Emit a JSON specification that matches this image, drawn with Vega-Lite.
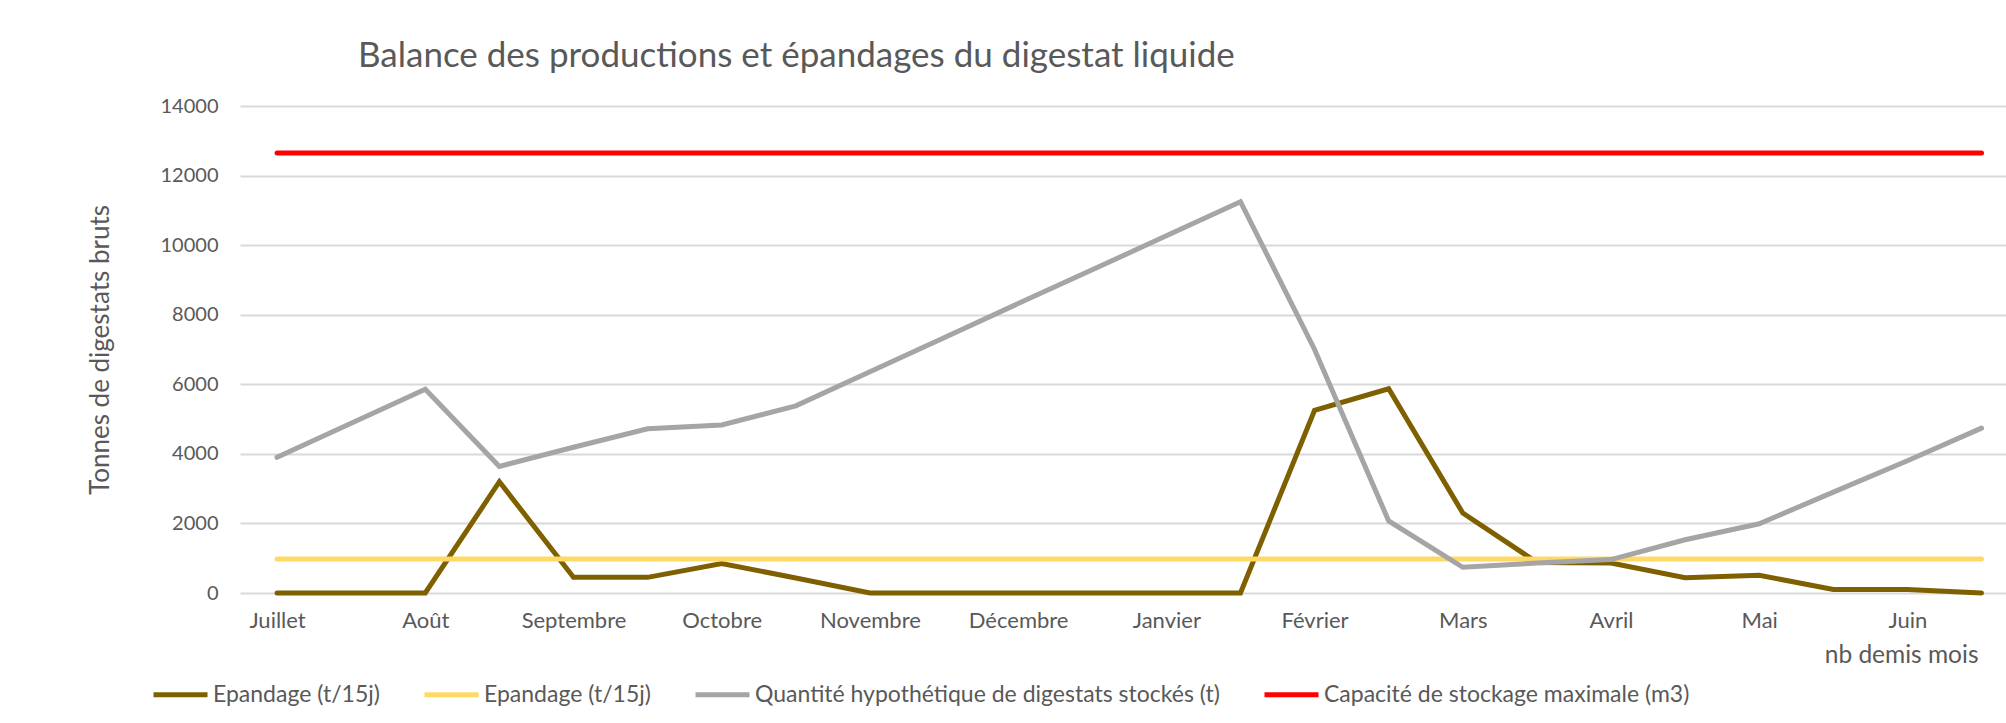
{
  "$schema": "https://vega.github.io/schema/vega-lite/v6.json",
  "autosize": {"type": "none"},
  "padding": {"left": 240, "top": 106, "right": 0, "bottom": 130},
  "width": 1766,
  "height": 487,
  "background": "white",
  "title": {
    "text": "Balance des productions et épandages du digestat liquide",
    "anchor": "start",
    "dx": 271,
    "offset": 22,
    "fontSize": 35,
    "font": "Lato",
    "fontWeight": "normal",
    "color": "#595959"
  },
  "config": {
    "font": "Lato",
    "view": {"stroke": null}
  },
  "data": {
    "values": [
      {"i": 0, "s": "E1", "v": 0}, {"i": 1, "s": "E1", "v": 0}, {"i": 2, "s": "E1", "v": 0}, {"i": 3, "s": "E1", "v": 3200},
      {"i": 4, "s": "E1", "v": 450}, {"i": 5, "s": "E1", "v": 450}, {"i": 6, "s": "E1", "v": 850}, {"i": 7, "s": "E1", "v": 430},
      {"i": 8, "s": "E1", "v": 0}, {"i": 9, "s": "E1", "v": 0}, {"i": 10, "s": "E1", "v": 0}, {"i": 11, "s": "E1", "v": 0},
      {"i": 12, "s": "E1", "v": 0}, {"i": 13, "s": "E1", "v": 0}, {"i": 14, "s": "E1", "v": 5250}, {"i": 15, "s": "E1", "v": 5870},
      {"i": 16, "s": "E1", "v": 2300}, {"i": 17, "s": "E1", "v": 880}, {"i": 18, "s": "E1", "v": 860}, {"i": 19, "s": "E1", "v": 440},
      {"i": 20, "s": "E1", "v": 510}, {"i": 21, "s": "E1", "v": 100}, {"i": 22, "s": "E1", "v": 100}, {"i": 23, "s": "E1", "v": 0},
      {"i": 0, "s": "E2", "v": 980}, {"i": 1, "s": "E2", "v": 980}, {"i": 2, "s": "E2", "v": 980}, {"i": 3, "s": "E2", "v": 980},
      {"i": 4, "s": "E2", "v": 980}, {"i": 5, "s": "E2", "v": 980}, {"i": 6, "s": "E2", "v": 980}, {"i": 7, "s": "E2", "v": 980},
      {"i": 8, "s": "E2", "v": 980}, {"i": 9, "s": "E2", "v": 980}, {"i": 10, "s": "E2", "v": 980}, {"i": 11, "s": "E2", "v": 980},
      {"i": 12, "s": "E2", "v": 980}, {"i": 13, "s": "E2", "v": 980}, {"i": 14, "s": "E2", "v": 980}, {"i": 15, "s": "E2", "v": 980},
      {"i": 16, "s": "E2", "v": 980}, {"i": 17, "s": "E2", "v": 980}, {"i": 18, "s": "E2", "v": 980}, {"i": 19, "s": "E2", "v": 980},
      {"i": 20, "s": "E2", "v": 980}, {"i": 21, "s": "E2", "v": 980}, {"i": 22, "s": "E2", "v": 980}, {"i": 23, "s": "E2", "v": 980},
      {"i": 0, "s": "Q", "v": 3900}, {"i": 1, "s": "Q", "v": 4880}, {"i": 2, "s": "Q", "v": 5860}, {"i": 3, "s": "Q", "v": 3640},
      {"i": 4, "s": "Q", "v": 4190}, {"i": 5, "s": "Q", "v": 4720}, {"i": 6, "s": "Q", "v": 4830}, {"i": 7, "s": "Q", "v": 5380},
      {"i": 8, "s": "Q", "v": 6360}, {"i": 9, "s": "Q", "v": 7340}, {"i": 10, "s": "Q", "v": 8320}, {"i": 11, "s": "Q", "v": 9290},
      {"i": 12, "s": "Q", "v": 10270}, {"i": 13, "s": "Q", "v": 11250}, {"i": 14, "s": "Q", "v": 7000}, {"i": 15, "s": "Q", "v": 2070},
      {"i": 16, "s": "Q", "v": 740}, {"i": 17, "s": "Q", "v": 860}, {"i": 18, "s": "Q", "v": 960}, {"i": 19, "s": "Q", "v": 1530},
      {"i": 20, "s": "Q", "v": 1990}, {"i": 21, "s": "Q", "v": 2900}, {"i": 22, "s": "Q", "v": 3800}, {"i": 23, "s": "Q", "v": 4740},
      {"i": 0, "s": "C", "v": 12650}, {"i": 1, "s": "C", "v": 12650}, {"i": 2, "s": "C", "v": 12650}, {"i": 3, "s": "C", "v": 12650},
      {"i": 4, "s": "C", "v": 12650}, {"i": 5, "s": "C", "v": 12650}, {"i": 6, "s": "C", "v": 12650}, {"i": 7, "s": "C", "v": 12650},
      {"i": 8, "s": "C", "v": 12650}, {"i": 9, "s": "C", "v": 12650}, {"i": 10, "s": "C", "v": 12650}, {"i": 11, "s": "C", "v": 12650},
      {"i": 12, "s": "C", "v": 12650}, {"i": 13, "s": "C", "v": 12650}, {"i": 14, "s": "C", "v": 12650}, {"i": 15, "s": "C", "v": 12650},
      {"i": 16, "s": "C", "v": 12650}, {"i": 17, "s": "C", "v": 12650}, {"i": 18, "s": "C", "v": 12650}, {"i": 19, "s": "C", "v": 12650},
      {"i": 20, "s": "C", "v": 12650}, {"i": 21, "s": "C", "v": 12650}, {"i": 22, "s": "C", "v": 12650}, {"i": 23, "s": "C", "v": 12650}
    ]
  },
  "mark": {"type": "line", "strokeWidth": 5, "strokeCap": "round", "strokeJoin": "miter"},
  "encoding": {
    "x": {
      "field": "i",
      "type": "quantitative",
      "scale": {"domain": [-0.5, 23.33], "nice": false, "zero": false},
      "axis": {
        "values": [0, 2, 4, 6, 8, 10, 12, 14, 16, 18, 20, 22],
        "labelExpr": "['Juillet','','Août','','Septembre','','Octobre','','Novembre','','Décembre','','Janvier','','Février','','Mars','','Avril','','Mai','','Juin'][datum.value]",
        "grid": false,
        "domain": false,
        "ticks": false,
        "labelFontSize": 22,
        "labelColor": "#595959",
        "labelPadding": 17,
        "labelFlush": false,
        "title": "nb demis mois",
        "titleFontSize": 24.5,
        "titleFontWeight": "normal",
        "titleColor": "#595959",
        "titleAlign": "right",
        "titleAnchor": null,
        "titleX": 1738,
        "titleY": 62,
        "titleBaseline": "middle"
      }
    },
    "y": {
      "field": "v",
      "type": "quantitative",
      "scale": {"domain": [0, 14000], "nice": false},
      "axis": {
        "values": [0, 2000, 4000, 6000, 8000, 10000, 12000, 14000],
        "format": "d",
        "grid": true,
        "gridColor": "#d9d9d9",
        "gridWidth": 2,
        "domain": false,
        "ticks": false,
        "labelFontSize": 20,
        "labelColor": "#595959",
        "labelPadding": 22,
        "title": "Tonnes de digestats bruts",
        "titleFontSize": 26,
        "titleFontWeight": "normal",
        "titleColor": "#595959",
        "titlePadding": 47
      }
    },
    "color": {
      "field": "s",
      "type": "nominal",
      "scale": {"domain": ["E1", "E2", "Q", "C"], "range": ["#7F6000", "#FFD966", "#A5A5A5", "#FF0000"]},
      "legend": {
        "title": null,
        "orient": "none",
        "direction": "horizontal",
        "legendX": -89,
        "legendY": 559,
        "padding": 0,
        "symbolType": "stroke",
        "symbolSize": 2916,
        "symbolStrokeWidth": 5,
        "labelFontSize": 23,
        "labelColor": "#595959",
        "labelOffset": 3,
        "columnPadding": 34,
        "labelLimit": 700,
        "labelExpr": "{'E1':'Epandage (t/15j)','E2':'Epandage (t/15j)','Q':'Quantité hypothétique de digestats stockés (t)','C':'Capacité de stockage maximale (m3)'}[datum.value]"
      }
    }
  }
}
